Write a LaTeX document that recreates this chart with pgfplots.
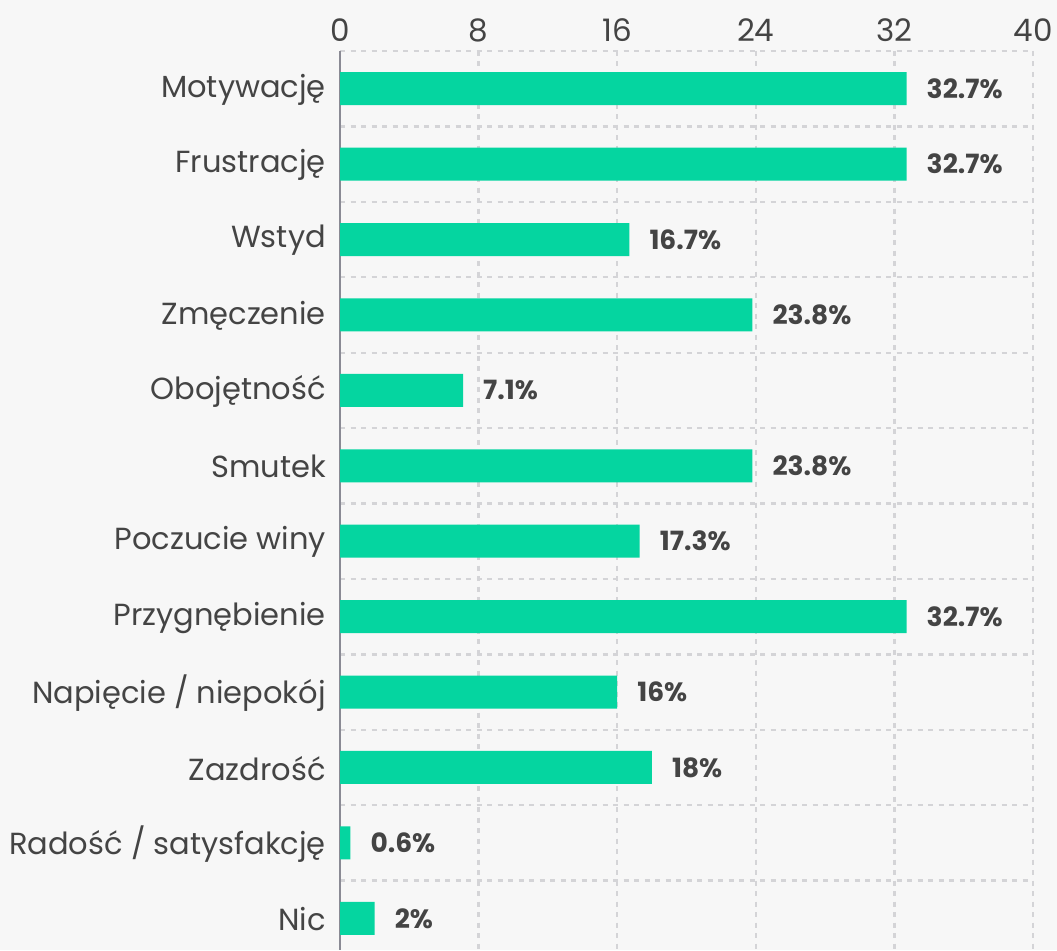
\documentclass[border=0pt]{standalone}
\usepackage{fontspec}
\setmainfont{Poppins}
\usepackage{pgfplots}
\pgfplotsset{compat=1.18}
\definecolor{bg}{HTML}{F7F7F7}
\definecolor{barc}{HTML}{05D5A0}
\definecolor{txt}{HTML}{444444}
\definecolor{gridc}{HTML}{D4D4D7}
\definecolor{axc}{HTML}{8A8A94}
\begin{document}
\begin{tikzpicture}
\fill[bg] (0,0) rectangle (1057pt,950pt);
\useasboundingbox (0,0) rectangle (1057pt,950pt);
\begin{axis}[
  at={(340pt,0pt)}, anchor=south west,
  scale only axis, width=693pt, height=899pt,
  xmin=0, xmax=40, ymin=-0.5, ymax=11.42,
  y dir=reverse,
  xbar, bar width=33pt,
  axis line style={draw=none},
  xtick={0,8,16,24,32,40},
  xticklabel pos=right,
  ytick={0,...,11},
  yticklabels={Motywację,Frustrację,Wstyd,Zmęczenie,Obojętność,Smutek,Poczucie winy,Przygnębienie,Napięcie / niepokój,Zazdrość,Radość / satysfakcję,Nic},
  minor ytick={-0.5,0.5,...,10.5},
  major tick length=0, minor tick length=0,
  xmajorgrids, yminorgrids,
  major grid style={gridc, line width=2.3pt, dash pattern=on 5pt off 5.5pt},
  minor grid style={gridc, line width=2.3pt, dash pattern=on 5pt off 5.5pt},
  extra x ticks={0}, extra x tick labels={},
  extra x tick style={grid=major, major grid style={axc, line width=2.4pt, solid}},
  xticklabel shift=0pt, yticklabel shift=0pt,
  xticklabel style={font=\fontsize{31}{34}\selectfont, text=txt, anchor=base, inner sep=0pt, yshift=9pt},
  yticklabel style={font=\fontsize{30.5}{34}\selectfont, text=txt, anchor=east, inner sep=0pt, xshift=-14pt, yshift=-1pt},
  /pgf/number format/assume math mode=true,
  nodes near coords={\pgfmathprintnumber{\pgfplotspointmeta}\%},
  nodes near coords style={font=\bfseries\fontsize{26.5}{30}\selectfont, text=txt, anchor=west, inner sep=0pt, xshift=20pt},
  point meta=x,
  clip=false,
]
\addplot[fill=barc, draw=none] coordinates {
(32.7,0) (32.7,1) (16.7,2) (23.8,3) (7.1,4) (23.8,5) (17.3,6) (32.7,7) (16,8) (18,9) (0.6,10) (2,11)
};
\end{axis}
\end{tikzpicture}
\end{document}
